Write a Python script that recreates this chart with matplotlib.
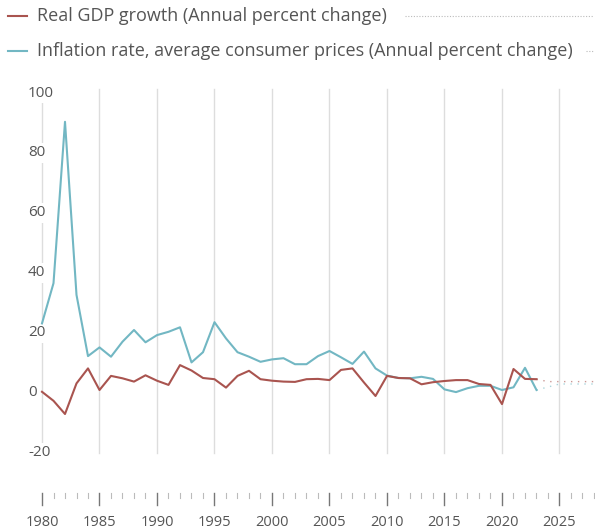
import matplotlib.pyplot as plt
import numpy as np

# Données (1980-2023), projections en pointillé
years = list(range(1980, 2024))
gdp_growth = [0.4, -2.6, -7.0, 3.2, 8.2, 1.0, 5.7, 4.9, 3.8, 5.9,
              4.1, 2.7, 9.3, 7.5, 5.0, 4.6, 1.8, 5.7, 7.4, 4.6,
              4.1, 3.8, 3.7, 4.6, 4.7, 4.3, 7.7, 8.2, 3.5, -1.0,
              5.7, 5.0, 4.9, 2.9, 3.6, 4.0, 4.3, 4.3, 3.0, 2.7,
              -3.7, 8.0, 4.7, 4.6]
inflation = [23.2, 36.6, 90.4, 32.7, 12.3, 15.2, 12.1, 17.1, 21.0, 16.9,
             19.3, 20.4, 21.9, 10.2, 13.6, 23.6, 18.2, 13.6, 12.1, 10.4,
             11.2, 11.6, 9.6, 9.6, 12.3, 14.0, 11.9, 9.7, 13.8, 8.2,
             5.8, 5.0, 4.9, 5.4, 4.7, 1.2, 0.3, 1.6, 2.4, 2.4,
             1.0, 1.9, 8.4, 1.0]
proj_years = [2023, 2024, 2025, 2026, 2027, 2028]
gdp_proj = [4.6, 3.8, 3.8, 3.8, 3.8, 3.8]
infl_proj = [1.0, 2.0, 3.0, 3.0, 3.0, 3.0]
y_ticks = [100, 80, 60, 40, 20, 0, -20]
x_ticks = list(range(1980, 2030, 5))

RED = '#a9544f'
BLUE = '#72b7c3'
TXT = '#555555'
GRID = '#dddddd'

W, H = 595, 529
fig = plt.figure(figsize=(W / 100, H / 100), dpi=100)
ax = fig.add_axes([0, 0, 1, 1])
ax.axis('off')

# échelle: 1980 à x=42px, 11.5 px/an ; 0 à y=393px, 3 px/unité
px_year, x0 = 11.5, 42
ax.set_xlim(1980 - x0 / px_year, 1980 + (W - x0) / px_year)
ax.set_ylim((393 - H) / 3, 393 / 3)

plt.rcParams['font.family'] = ['Open Sans', 'DejaVu Sans']

# grille verticale
for yr in x_ticks[1:]:
    ax.plot([yr, yr], [-20, 101.5], color=GRID, lw=1, zorder=1)
ax.plot([1980, 1980], [-20, 97], color=GRID, lw=1, zorder=1)

# étiquettes Y
for v in y_ticks:
    ax.text(1980 - 14 / px_year, v, str(v), ha='left', va='center', fontsize=11,
            color=TXT, zorder=3,
            bbox=dict(facecolor='white', edgecolor='none', pad=1.5))

# séries
ax.plot(years, inflation, color=BLUE, lw=1.5, zorder=4)
ax.plot(years, gdp_growth, color=RED, lw=1.5, zorder=5)
ax.plot(proj_years, infl_proj, color=BLUE, lw=1, ls=(0, (1, 4)), alpha=0.6, zorder=4)
ax.plot(proj_years, gdp_proj, color=RED, lw=1, ls=(0, (1, 4)), alpha=0.6, zorder=5)

# axe X en bas
for yr in range(1980, 2029):
    if yr % 5 == 0:
        ax.plot([yr, yr], [-33.3, -37.3], color='#777777', lw=1)
        ax.text(yr, -43, str(yr), ha='center', va='center', fontsize=10.5, color=TXT)
    else:
        ax.plot([yr, yr], [-33.3, -34.9], color='#bbbbbb', lw=0.8)

# légende
def legend_row(ypx, color, label, dots_from):
    yv = (393 - ypx) / 3
    xa = lambda px: 1980 + (px - x0) / px_year
    ax.plot([xa(8), xa(27)], [yv, yv], color=color, lw=1.5)
    ax.text(xa(37), yv, label, ha='left', va='center', fontsize=13, color=TXT)
    ax.plot([xa(dots_from), xa(593)], [yv, yv], color='#bbbbbb', lw=0.8, ls=(0, (1, 1.5)))

legend_row(16, RED, 'Real GDP growth (Annual percent change)', 405)
legend_row(51, BLUE, 'Inflation rate, average consumer prices (Annual percent change)', 586)

fig.savefig('out.png', dpi=100, facecolor='white')
